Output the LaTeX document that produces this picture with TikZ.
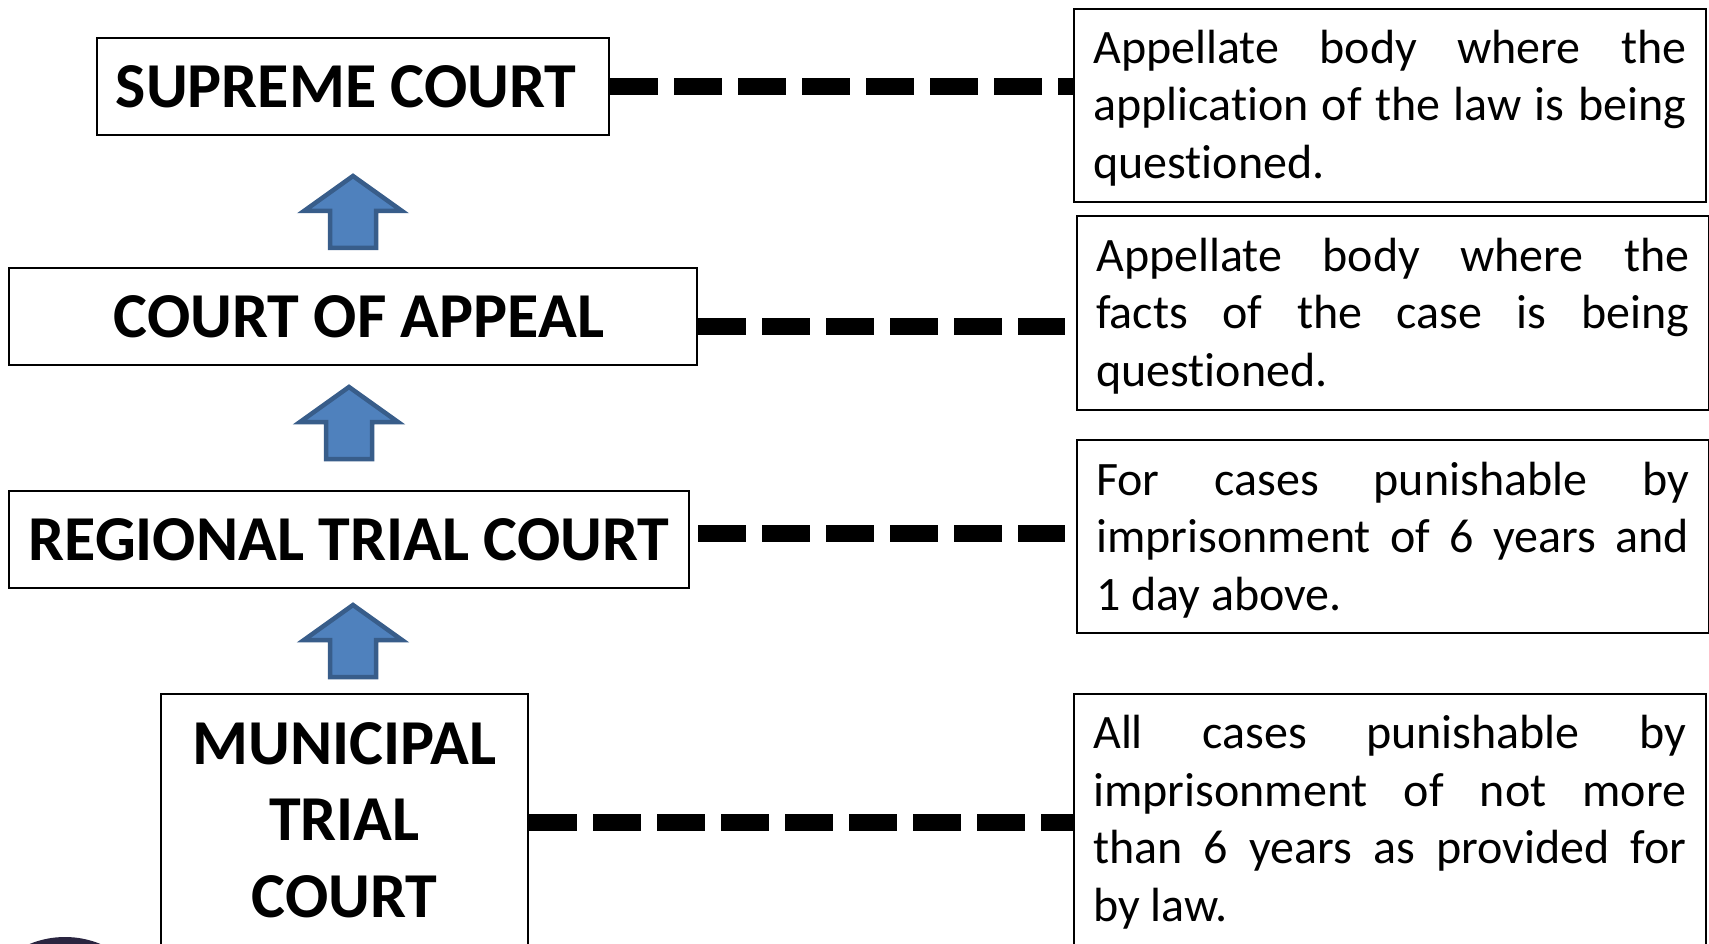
\documentclass[tikz,border=0pt]{standalone}
\usepackage{fontspec}
\setmainfont[Ligatures=NoCommon]{Carlito}
\definecolor{arrowfill}{HTML}{4F81BD}
\definecolor{arrowline}{HTML}{385D8A}
\definecolor{blobc}{HTML}{2A2540}
\tikzset{
  x=1pt,y=-1pt,
  courtbox/.style={draw=black,line width=2pt,fill=white,anchor=north west,inner sep=0pt,font=\fontsize{64}{76.5}\selectfont\bfseries,align=center},
  notebox/.style={draw=black,line width=2pt,fill=white,anchor=north west,inner sep=0pt,minimum width=632pt},
  notetext/.style={anchor=north west,inner sep=0pt,text width=593pt,font=\fontsize{48}{57.5}\selectfont,align=justify},
  upshape/.style={draw=arrowline,line width=4.5pt,fill=arrowfill,miter limit=10},
  dashline/.style={line width=17pt,draw=black,dash pattern=on 47.5pt off 16.5pt}
}
\newcommand{\uparrowshape}[3]{% centre x, tip y, name
  \draw[upshape] (#1,#2) -- ++(49,35) -- ++(-26,0) -- ++(0,37) -- ++(-46,0) -- ++(0,-37) -- ++(-26,0) -- cycle;
  \coordinate (#3) at (#1,#2);
}
\begin{document}
\begin{tikzpicture}
\useasboundingbox (0,0) rectangle (1709,944);
\clip (0,0) rectangle (1709,944);
\fill[white] (0,0) rectangle (1709,944);
\fill[blobc] (65,1030) circle (93);

\node[courtbox,minimum width=512pt,minimum height=97pt] (sc) at (96,37) {};
\node[anchor=center,inner sep=0pt,font=\fontsize{64}{76.5}\selectfont\bfseries] (sct) at (346,87) {SUPREME COURT};
\node[courtbox,minimum width=688pt,minimum height=97pt] (ca) at (8,267) {};
\node[anchor=center,inner sep=0pt,font=\fontsize{64}{76.5}\selectfont\bfseries] (cat) at (359,317) {COURT OF APPEAL};
\node[courtbox,minimum width=680pt,minimum height=97pt] (rtc) at (8,490) {};
\node[anchor=center,inner sep=0pt,font=\fontsize{64}{76.5}\selectfont\bfseries] (rtct) at (349,540) {REGIONAL TRIAL COURT};
\node[courtbox,minimum width=367pt,minimum height=310pt] (mtc) at (160,693) {};
\node[anchor=north,font=\fontsize{64}{76.5}\selectfont\bfseries,align=center,inner sep=0pt] (mtct) at (344.5,722) {MUNICIPAL\\TRIAL\\COURT};

\node[notebox,minimum height=193pt] (n1) at (1073,8) {};
\node[notetext] (n1t) at (1093,29.5) {Appellate body where the\linebreak application of the law is being\linebreak questioned.};
\node[notebox,minimum height=194pt] (n2) at (1076,215) {};
\node[notetext] (n2t) at (1096,237.5) {Appellate body where the\linebreak facts of the case is being\linebreak questioned.};
\node[notebox,minimum height=193pt] (n3) at (1076,439) {};
\node[notetext] (n3t) at (1096,461.5) {For cases punishable by\linebreak imprisonment of 6 years and\linebreak 1 day above.};
\node[notebox,minimum height=300pt] (n4) at (1073,693) {};
\node[notetext] (n4t) at (1093,715) {All cases punishable by\linebreak imprisonment of not more\linebreak than 6 years as provided for\linebreak by law.};

\uparrowshape{353}{176}{a1}
\uparrowshape{349}{387}{a2}
\uparrowshape{353}{605}{a3}

\draw[dashline] (sc.east) -- (sc.east -| n1.west);
\draw[dashline] ([yshift=-10pt]ca.east) -- ([xshift=-11pt,yshift=-10pt]ca.east -| n2.west);
\draw[dashline] ([xshift=8pt,yshift=6pt]rtc.east) -- ([xshift=-11pt,yshift=6pt]rtc.east -| n3.west);
\draw[dashline] ([yshift=27pt]mtc.east) -- ([yshift=27pt]mtc.east -| n4.west);
\end{tikzpicture}
\end{document}
